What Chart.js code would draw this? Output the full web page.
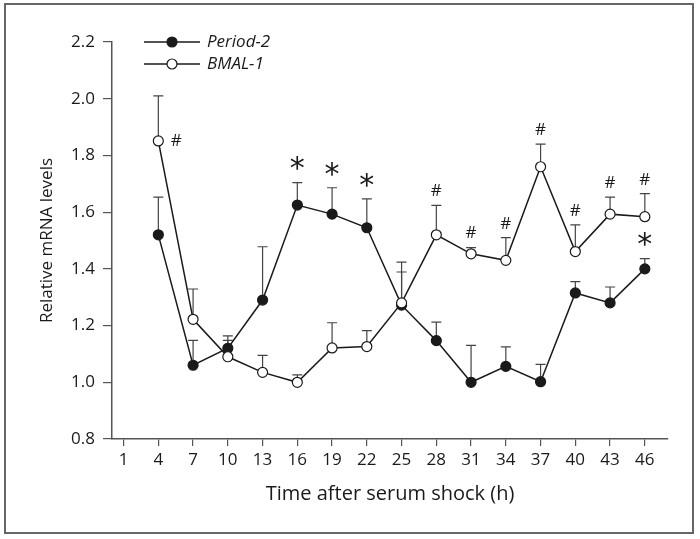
<!DOCTYPE html>
<html>
<head>
<meta charset="utf-8">
<script src="https://cdn.jsdelivr.net/npm/chart.js@4"></script>
<style>
  body { margin: 0; background: #fff; }
  canvas { display: block; }
</style>
</head>
<body>
<canvas id="chart" width="700" height="539"></canvas>
<script>
const hours = [4, 7, 10, 13, 16, 19, 22, 25, 28, 31, 34, 37, 40, 43, 46];
const xTickLabels = [1, 4, 7, 10, 13, 16, 19, 22, 25, 28, 31, 34, 37, 40, 43, 46];
const yTickValues = [0.8, 1.0, 1.2, 1.4, 1.6, 1.8, 2.0, 2.2];

const period2 = [1.52, 1.06, 1.12, 1.29, 1.625, 1.593, 1.545, 1.272, 1.147, 1.0, 1.056, 1.002, 1.315, 1.28, 1.4];
const period2Upper = [1.653, 1.148, 1.164, 1.478, 1.704, 1.686, 1.647, 1.389, 1.212, 1.13, 1.125, 1.063, 1.355, 1.336, 1.436];

const bmal1 = [1.851, 1.222, 1.09, 1.035, 1.0, 1.121, 1.126, 1.28, 1.52, 1.453, 1.43, 1.76, 1.461, 1.593, 1.584];
const bmal1Upper = [2.01, 1.329, 1.148, 1.095, 1.026, 1.21, 1.182, 1.424, 1.624, 1.475, 1.51, 1.84, 1.555, 1.653, 1.665];

// significance marks (hours)
const period2Stars = [16, 19, 22, 46];
const bmal1Hashes = [4, 28, 31, 34, 37, 40, 43, 46];

const FONT = "'Open Sans', 'Noto Sans', sans-serif";
const INK = "#1a1a1a";
const AXIS = "#555";

const extrasPlugin = {
  id: "extras",
  beforeDatasetsDraw(chart) {
    const ctx = chart.ctx;
    const yScale = chart.scales.y;
    ctx.save();
    ctx.strokeStyle = "#444";
    ctx.lineWidth = 1.2;
    chart.data.datasets.forEach((ds, di) => {
      const meta = chart.getDatasetMeta(di);
      ds.upper.forEach((u, i) => {
        const pt = meta.data[i];
        const yTop = yScale.getPixelForValue(u);
        ctx.beginPath();
        ctx.moveTo(pt.x, pt.y);
        ctx.lineTo(pt.x, yTop);
        ctx.moveTo(pt.x - 5, yTop);
        ctx.lineTo(pt.x + 5, yTop);
        ctx.stroke();
      });
    });
    ctx.restore();
  },
  afterDraw(chart) {
    const ctx = chart.ctx;
    const xScale = chart.scales.x;
    const yScale = chart.scales.y;
    ctx.save();

    // outer frame
    ctx.strokeStyle = "#666";
    ctx.lineWidth = 2;
    ctx.strokeRect(5, 4, 688, 529);

    ctx.fillStyle = INK;
    ctx.textAlign = "center";
    ctx.textBaseline = "middle";

    ctx.font = "30px 'DejaVu Sans', sans-serif";
    period2Stars.forEach((h) => {
      const i = hours.indexOf(h);
      const x = xScale.getPixelForValue(h);
      const y = yScale.getPixelForValue(period2Upper[i]);
      ctx.fillText("*", x, y - 12);
    });

    ctx.font = "17px " + FONT;
    bmal1Hashes.forEach((h) => {
      const i = hours.indexOf(h);
      const x = xScale.getPixelForValue(h);
      if (i === 0) {
        ctx.fillText("#", x + 18, yScale.getPixelForValue(bmal1[i]));
      } else {
        const y = yScale.getPixelForValue(bmal1Upper[i]);
        ctx.fillText("#", x, y - 14);
      }
    });

    // legend
    const items = [
      { label: "Period-2", fill: INK, y: 42 },
      { label: "BMAL-1", fill: "#fff", y: 64 },
    ];
    items.forEach((it) => {
      ctx.strokeStyle = INK;
      ctx.lineWidth = 1.5;
      ctx.beginPath();
      ctx.moveTo(144, it.y);
      ctx.lineTo(200, it.y);
      ctx.stroke();
      ctx.beginPath();
      ctx.arc(172, it.y, 5, 0, Math.PI * 2);
      ctx.fillStyle = it.fill;
      ctx.fill();
      ctx.lineWidth = 1.2;
      ctx.stroke();
      ctx.fillStyle = INK;
      ctx.textAlign = "left";
      ctx.font = "italic 17px " + FONT;
      ctx.fillText(it.label, 207, it.y);
    });
    ctx.restore();
  },
};

const toPoints = (vals) => hours.map((h, i) => ({ x: h, y: vals[i] }));

new Chart(document.getElementById("chart"), {
  type: "line",
  data: {
    datasets: [
      {
        label: "BMAL-1",
        data: toPoints(bmal1),
        upper: bmal1Upper,
        borderColor: INK,
        borderWidth: 1.5,
        pointRadius: 5,
        pointBackgroundColor: "#fff",
        pointBorderColor: INK,
        pointBorderWidth: 1.2,
        order: 0,
      },
      {
        label: "Period-2",
        data: toPoints(period2),
        upper: period2Upper,
        borderColor: INK,
        borderWidth: 1.5,
        pointRadius: 5,
        pointBackgroundColor: INK,
        pointBorderColor: INK,
        pointBorderWidth: 1.2,
        order: 1,
      },
    ],
  },
  options: {
    responsive: false,
    animation: false,
    layout: { padding: { top: 42, right: 32, left: 0, bottom: 0 } },
    plugins: { legend: { display: false }, tooltip: { enabled: false } },
    scales: {
      x: {
        type: "linear",
        min: 0,
        max: 48,
        afterBuildTicks: (s) => {
          s.ticks = xTickLabels.map((v) => ({ value: v }));
        },
        afterFit: (s) => {
          s.height = 100;
        },
        grid: { drawOnChartArea: false, tickLength: 7, color: AXIS, lineWidth: 1.2 },
        border: { color: AXIS, width: 1.5 },
        ticks: { font: { family: FONT, size: 17 }, color: INK, padding: 4, maxRotation: 0, autoSkip: false },
        title: {
          display: true,
          text: "Time after serum shock (h)",
          font: { family: FONT, size: 20 },
          color: INK,
          padding: { top: 0, bottom: 33 },
        },
      },
      y: {
        min: 0.8,
        max: 2.2,
        afterBuildTicks: (s) => {
          s.ticks = yTickValues.map((v) => ({ value: v }));
        },
        afterFit: (s) => {
          s.width = 112;
        },
        grid: { drawOnChartArea: false, tickLength: 9, color: AXIS, lineWidth: 1.2 },
        border: { color: AXIS, width: 1.5 },
        ticks: { font: { family: FONT, size: 17 }, color: INK, padding: 8, callback: (v) => v.toFixed(1) },
        title: {
          display: true,
          text: "Relative mRNA levels",
          font: { family: FONT, size: 17 },
          color: INK,
          padding: { top: 37, bottom: 0 },
        },
      },
    },
  },
  plugins: [extrasPlugin],
});
</script>
</body>
</html>
